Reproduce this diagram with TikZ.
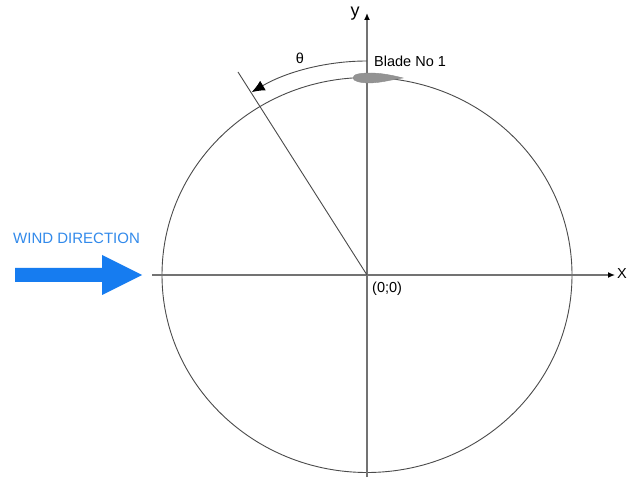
\documentclass[tikz,border=0pt]{standalone}
\usepackage{fontspec}
\setmainfont{Liberation Sans}
\usetikzlibrary{arrows.meta}
\definecolor{windblue}{RGB}{22,124,240}
\definecolor{windtext}{RGB}{50,138,235}
\definecolor{linegray}{RGB}{75,75,75}
\definecolor{axisgray}{RGB}{115,115,115}
\tikzset{
  lbl/.style={inner sep=0pt, font=\fontsize{14.5}{17}\selectfont},
  axisline/.style={draw=axisgray, line width=1.3pt, -{Latex[length=7pt,width=6pt,color=black]}},
  thinline/.style={draw=linegray, line width=0.9pt},
}
\begin{document}
\begin{tikzpicture}[x=1pt,y=1pt]
\useasboundingbox[fill=white] (0,0) rectangle (629,477);
\coordinate (O) at (367,202);
% circle
\draw[thinline] (O) ellipse[x radius=205, y radius=197.5];
% axes
\coordinate (xs) at (152,202);
\coordinate (xe) at (615,202);
\coordinate (ys) at (367,0);
\coordinate (ye) at (367,464);
\draw[axisline] (xs) -- (xe);
\draw[axisline] (ys) -- (ye);
\node[lbl, anchor=west] (xl) at (617,203) {X};
\node[lbl, font=\fontsize{18}{20}\selectfont] (yl) at (355,463) {y};
% radial line
\coordinate (R) at (238,405);
\draw[thinline] (O) -- (R);
% theta arc
\coordinate (As) at (367,416);
\draw[thinline, -{Latex[length=13pt,width=11pt,color=black]}] (As) arc[start angle=90, end angle=121.3, x radius=222, y radius=214];
\node[lbl] (th) at (300,419) {θ};
% blade
\draw[draw=gray!90, fill=gray!85] (353,399) .. controls (353,403) and (360,404) .. (372,404)
  .. controls (385,403.5) and (395,401) .. (403,399)
  .. controls (390,397) and (382,394.5) .. (370,394)
  .. controls (360,394) and (353,396) .. (353,399) -- cycle;
\node[lbl, anchor=west] (blade) at (374,416) {Blade No 1};
% origin label
\node[lbl, anchor=west] (orig) at (372,188) {(0;0)};
% wind direction
\node[lbl, anchor=west, text=windtext, font=\fontsize{15}{18}\selectfont] (wind) at (13,239) {WIND DIRECTION};
\fill[windblue] (15,195) -- (102,195) -- (102,222) -- (142,202) -- (102,182) -- (102,209) -- (15,209) -- cycle;
\end{tikzpicture}
\end{document}
